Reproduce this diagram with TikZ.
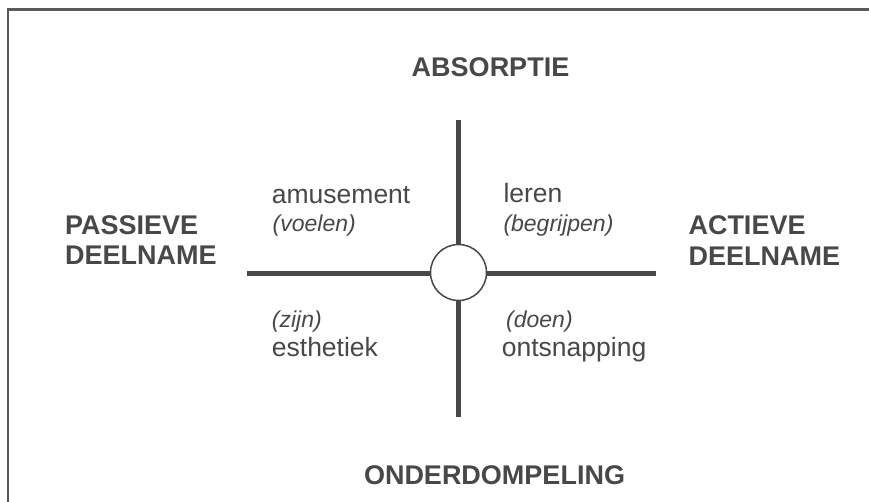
\documentclass[tikz,border=0pt]{standalone}
\usepackage{fontspec}
\setmainfont{Liberation Sans}
\definecolor{ink}{RGB}{72,72,72}
\definecolor{frame}{RGB}{90,90,90}
\begin{document}
\begin{tikzpicture}[x=1pt,y=-1pt,
  lbl/.style={inner sep=0pt,anchor=base west,text=ink},
  bigb/.style={lbl,font=\fontsize{27}{30}\selectfont\bfseries},
  reg/.style={lbl,font=\fontsize{26.5}{30}\selectfont},
  ital/.style={lbl,font=\fontsize{23}{27}\selectfont\itshape},
  axis/.style={draw=ink,line width=5.5pt},
]
\useasboundingbox (0,0) rectangle (869,502);
\fill[white] (0,0) rectangle (869,502);
% frame (top and left edges)
\coordinate (fbl) at (8,502);
\coordinate (ftl) at (8,9.5);
\coordinate (ftr) at (869,9.5);
\draw[frame,line width=2.2pt] (fbl) -- (ftl) -- (ftr);
% axes
\node[circle,draw=ink,line width=1.5pt,fill=white,minimum size=56pt,inner sep=0pt] (c) at (458.5,272.5) {};
\coordinate (top) at (458.5,120);
\coordinate (bot) at (458.5,416.7);
\coordinate (lft) at (246.7,273.5);
\coordinate (rgt) at (656,273.5);
\draw[axis] (top) -- (c.north);
\draw[axis] (c.south) -- (bot);
\draw[axis] (lft) -- (lft -| c.west);
\draw[axis] (rgt -| c.east) -- (rgt);
% axis titles
\node[bigb,anchor=base] (abs) at (490.5,76.7) {ABSORPTIE};
\node[bigb,anchor=base] (ond) at (494.5,484) {ONDERDOMPELING};
\node[bigb] (pas1) at (65,235) {PASSIEVE};
\node[bigb] (pas2) at (65,265) {DEELNAME};
\node[bigb] (act1) at (688.3,235) {ACTIEVE};
\node[bigb] (act2) at (688.3,266) {DEELNAME};
% quadrant labels
\node[reg] (amu) at (271.7,204) {amusement};
\node[ital] (voe) at (272.5,232) {(voelen)};
\node[reg] (ler) at (503.3,203) {leren};
\node[ital] (beg) at (503.3,232) {(begrijpen)};
\node[ital] (zij) at (271.7,327) {(zijn)};
\node[reg] (est) at (271.7,356) {esthetiek};
\node[ital] (doe) at (506,327) {(doen)};
\node[reg] (ont) at (501.7,356) {ontsnapping};
\end{tikzpicture}
\end{document}
